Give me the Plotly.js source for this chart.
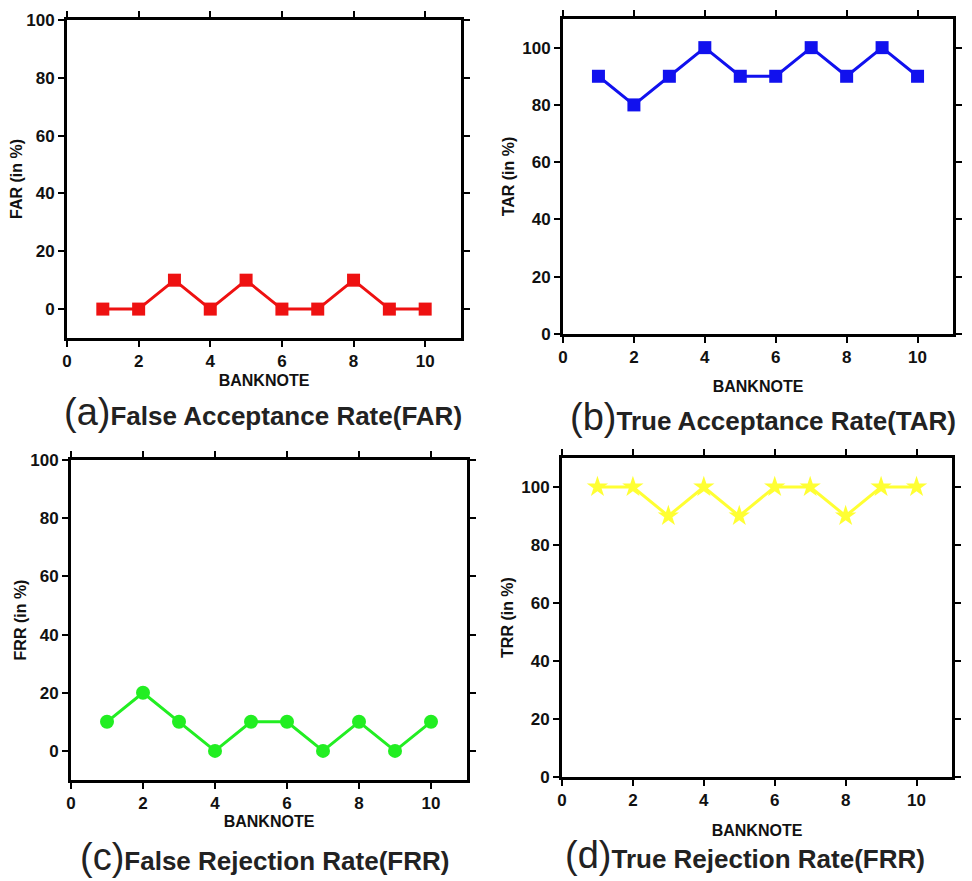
<!DOCTYPE html>
<html>
<head>
<meta charset="utf-8">
<script src="https://cdn.plot.ly/plotly-3.0.1.min.js"></script>
<style>html,body{margin:0;padding:0;background:#fff;}#chart{width:972px;height:881px;}</style>
</head>
<body>
<div id="chart"></div>
<script>
// Data
var banknotes = [1, 2, 3, 4, 5, 6, 7, 8, 9, 10];
var farValues = [0, 0, 10, 0, 10, 0, 0, 10, 0, 0];
var tarValues = [90, 80, 90, 100, 90, 90, 100, 90, 100, 90];
var frrValues = [10, 20, 10, 0, 10, 10, 0, 10, 0, 10];
var trrValues = [100, 100, 90, 100, 90, 100, 100, 90, 100, 100];
var yTitles = ["FAR (in %)", "TAR (in %)", "FRR (in %)", "TRR (in %)"];
var xTitle = "BANKNOTE";
var captionTags = ["(a)", "(b)", "(c)", "(d)"];
var captionTexts = ["False Acceptance Rate(FAR)", "True Acceptance Rate(TAR)", "False Rejection Rate(FRR)", "True Rejection Rate(FRR)"];

var FONT = "Liberation Sans";
var traces = [
  {x: banknotes, y: farValues, xaxis: 'x', yaxis: 'y', mode: 'lines+markers', type: 'scatter',
   line: {color: '#ee1111', width: 3}, marker: {symbol: 'square', size: 13, color: '#ee1111'}},
  {x: banknotes, y: tarValues, xaxis: 'x2', yaxis: 'y2', mode: 'lines+markers', type: 'scatter',
   line: {color: '#1111ee', width: 3}, marker: {symbol: 'square', size: 13, color: '#1111ee'}},
  {x: banknotes, y: frrValues, xaxis: 'x3', yaxis: 'y3', mode: 'lines+markers', type: 'scatter',
   line: {color: '#22ee22', width: 3}, marker: {symbol: 'circle', size: 14, color: '#22ee22'}},
  {x: banknotes, y: trrValues, xaxis: 'x4', yaxis: 'y4', mode: 'lines+markers', type: 'scatter',
   line: {color: '#ffff33', width: 3}, marker: {symbol: 'star', size: 16, color: '#ffff33'}}
];

function px(v){ return v/972; }
function py(v){ return 1 - v/881; }

var panels = [
  {l: 67, r: 461, t: 20, b: 338, yr: [-10, 100], xs: 5, ys: 0},
  {l: 563, r: 953, t: 19, b: 334, yr: [0, 110], xs: 15, ys: 4},
  {l: 71, r: 467, t: 460, b: 780, yr: [-10, 100], xs: 4, ys: 0},
  {l: 562, r: 952, t: 458, b: 777, yr: [0, 110], xs: 16, ys: 4}
];

var layout = {
  width: 972, height: 881,
  margin: {l: 0, r: 0, t: 0, b: 0},
  paper_bgcolor: '#ffffff', plot_bgcolor: '#ffffff',
  showlegend: false,
  font: {family: FONT, size: 16, color: '#111111'},
  annotations: []
};

panels.forEach(function(p, i){
  var sfx = i === 0 ? '' : String(i + 1);
  var tf = {family: FONT, size: 17, weight: 'bold', color: '#111111'};
  layout['xaxis' + sfx] = {
    type: 'linear',
    showgrid: false, zeroline: false,
    showline: true, linecolor: '#000000', linewidth: 3,
    mirror: 'allticks', ticks: 'outside', ticklen: 6, tickwidth: 2, tickcolor: '#000000',
    showticklabels: true, tickfont: tf,
    domain: [px(p.l), px(p.r)], range: [0, 11], dtick: 2, tick0: 0,
    anchor: 'y' + sfx,
    title: {text: xTitle, standoff: p.xs, font: {family: FONT, size: 16, weight: 'bold', color: '#111111'}}
  };
  layout['yaxis' + sfx] = {
    type: 'linear',
    showgrid: false, zeroline: false,
    showline: true, linecolor: '#000000', linewidth: 3,
    mirror: 'allticks', ticks: 'outside', ticklen: 6, tickwidth: 2, tickcolor: '#000000',
    showticklabels: true, tickfont: tf,
    domain: [py(p.b), py(p.t)], range: p.yr, dtick: 20, tick0: 0,
    anchor: 'x' + sfx,
    title: {text: yTitles[i], standoff: p.ys, font: {family: FONT, size: 16, weight: 'bold', color: '#111111'}}
  };
});

var capPos = [[263, 412], [763, 417], [264, 857], [745, 855]];
capPos.forEach(function(c, i){
  layout.annotations.push({
    xref: 'paper', yref: 'paper', x: px(c[0]), y: py(c[1]),
    xanchor: 'center', yanchor: 'middle', showarrow: false,
    text: '<span style="font-size:38px;font-weight:normal">' + captionTags[i] + '</span><b>' + captionTexts[i] + '</b>',
    font: {family: FONT, size: 26, color: '#222222'}
  });
});

Plotly.newPlot('chart', traces, layout, {staticPlot: true, displayModeBar: false});
</script>
</body>
</html>
